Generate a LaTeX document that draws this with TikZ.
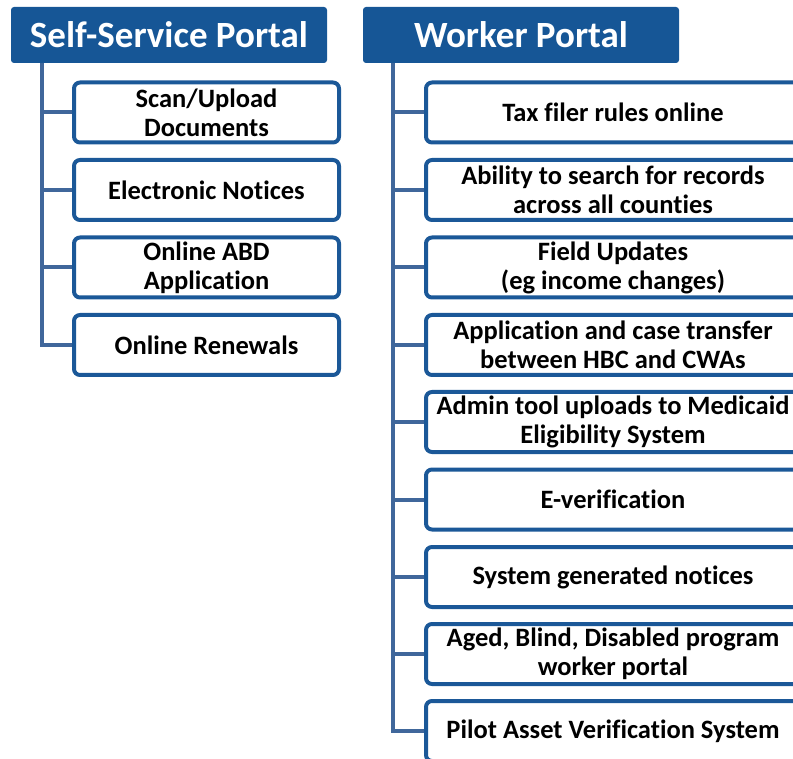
\documentclass[tikz,border=0pt]{standalone}
\usepackage{fontspec}
\setmainfont[Ligatures=NoCommon]{Carlito}
\usetikzlibrary{backgrounds}
\definecolor{hdrblue}{RGB}{22,86,150}
\definecolor{boxblue}{RGB}{27,88,152}
\definecolor{connblue}{RGB}{64,103,155}
\tikzset{
  hdr/.style={fill=hdrblue, draw=none, rounded corners=3pt, minimum width=316pt, minimum height=56pt, inner sep=0pt, text=white, font=\fontsize{37}{40}\selectfont\bfseries},
  lbox/.style={draw=boxblue, line width=4pt, fill=white, rounded corners=6pt, minimum width=265pt, minimum height=60pt, inner sep=0pt, align=center, font=\fontsize{26.5}{29}\selectfont\bfseries},
  rbox/.style={lbox, minimum width=374pt},
  conn/.style={draw=connblue, line width=4pt}
}
\begin{document}
\begin{tikzpicture}[x=1pt,y=-1pt]
\useasboundingbox (0,0) rectangle (793,759);
\node[hdr] (hl) at (169,35) {Self-Service Portal};
\node[hdr] (hr) at (521,35) {Worker Portal};

\node[lbox] (l1) at (206.5,112.5) {Scan/Upload\\Documents};
\node[lbox] (l2) at (206.5,190) {Electronic Notices};
\node[lbox] (l3) at (206.5,267.5) {Online ABD\\Application};
\node[lbox] (l4) at (206.5,345) {Online Renewals};

\node[rbox] (r1) at (613,112.5) {Tax filer rules online};
\node[rbox] (r2) at (613,190) {Ability to search for records\\across all counties};
\node[rbox] (r3) at (613,267.5) {Field Updates\\(eg income changes)};
\node[rbox] (r4) at (613,345) {Application and case transfer\\between HBC and CWAs};
\node[rbox] (r5) at (613,422) {Admin tool uploads to Medicaid\\Eligibility System};
\node[rbox] (r6) at (613,499.5) {E-verification};
\node[rbox] (r7) at (613,577) {System generated notices};
\node[rbox] (r8) at (613,654) {Aged, Blind, Disabled program\\worker portal};
\node[rbox] (r9) at (613,731) {Pilot Asset Verification System};

\coordinate (lt) at (42,63);
\coordinate (rt) at (393,63);
\begin{scope}[on background layer]
\draw[conn] (lt) |- (l4.west);
\foreach \n in {l1,l2,l3} \draw[conn] (lt |- \n.west) -- (\n.west);
\draw[conn] (rt) |- (r9.west);
\foreach \n in {r1,r2,r3,r4,r5,r6,r7,r8} \draw[conn] (rt |- \n.west) -- (\n.west);
\end{scope}
\end{tikzpicture}
\end{document}
